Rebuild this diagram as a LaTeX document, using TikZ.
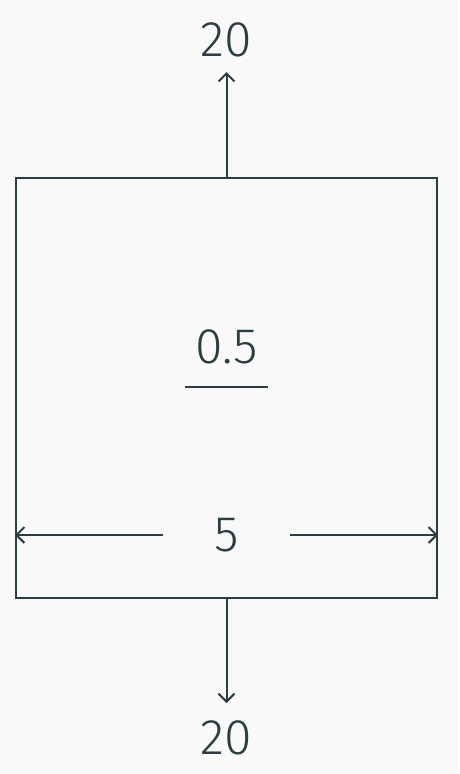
\documentclass[tikz,border=0pt]{standalone}
\usepackage{fontspec}
\setmainfont{Fira Sans Light}
\usetikzlibrary{arrows.meta}
\definecolor{ink}{HTML}{2B3F42}
\definecolor{paper}{HTML}{F9F9F9}

\begin{document}
\begin{tikzpicture}[
  x=1pt, y=-1pt,
  ln/.style={draw=ink, line width=2pt},
  arr/.style={ln, -{Straight Barb[length=8pt, width=16pt, line width=2pt]}},
  lbl/.style={text=ink, font=\fontsize{50}{60}\selectfont, inner sep=0pt}
]
% ---- fond -----------------------------------------------------------
\fill[paper] (0,0) rectangle (459,774);
\useasboundingbox (0,0) rectangle (459,774);

% ---- carre et valeurs ----------------------------------------------
\node[ln, minimum width=421pt, minimum height=420pt, inner sep=0pt] (box) at (226.5,388) {};
\node[lbl] (topval) at (226.5,40) {20};
\node[lbl] (botval) at (226.5,738) {20};
\coordinate (toptip) at (226.5,72);
\coordinate (bottip) at (226.5,703);
\draw[arr] (box.north) -- (toptip);
\draw[arr] (box.south) -- (bottip);

% ---- fraction -------------------------------------------------------
\node[lbl] (frac) at (226.5,347) {0.5};
\coordinate (barl) at (185,387);
\coordinate (barr) at (268,387);
\draw[ln] (barl) -- (barr);

% ---- cote -----------------------------------------------------------
\node[lbl, minimum width=127pt] (width) at (226.5,535) {5};
\draw[arr] (width.west) -- (box.west |- width.west);
\draw[arr] (width.east) -- (box.east |- width.east);
\end{tikzpicture}
\end{document}
